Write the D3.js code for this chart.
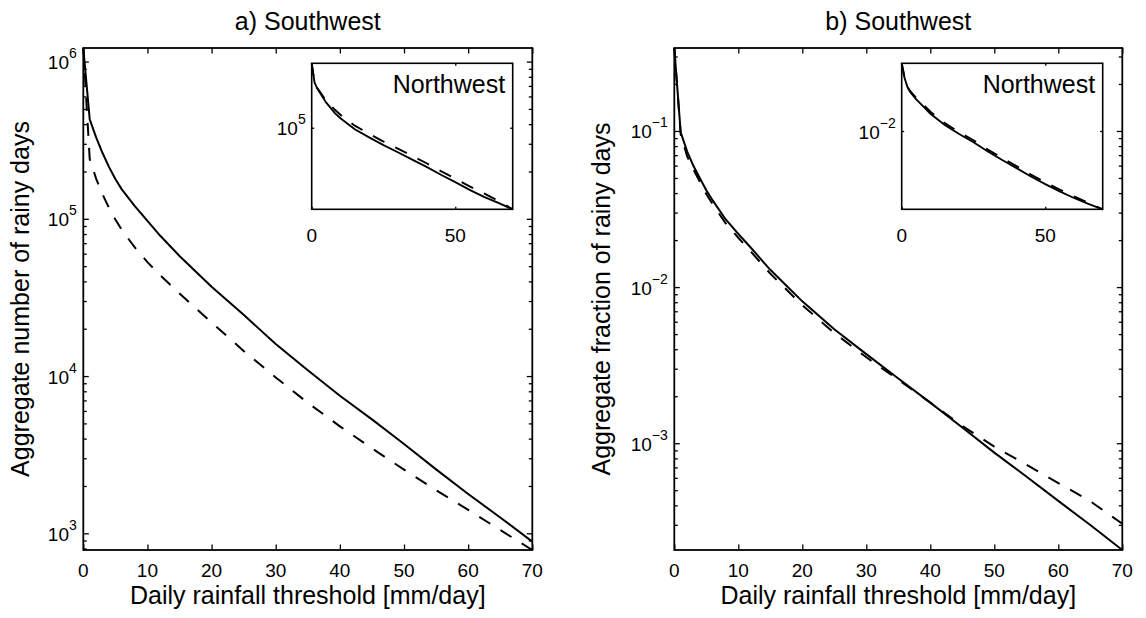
<!DOCTYPE html>
<html><head><meta charset="utf-8">
<script src="https://cdn.jsdelivr.net/npm/d3@7"></script>
<style>
body{margin:0;background:#fff;}
svg{font-family:"Liberation Sans",Arial,Helvetica,sans-serif;}
</style></head><body>
<svg id="c" width="1146" height="618"></svg>
<script>
// ---------- data ----------
const thresholds = [0,1,2,3,4,5,6,8,10,12,15,20,25,30,35,40,45,50,55,60,65,70];
// a) Southwest aggregate number of rainy days
const swCountSolid  = [1.22e6,4.3e5,3.3e5,2.62e5,2.14e5,1.79e5,1.54e5,1.21e5,9.7e4,7.8e4,5.8e4,3.7e4,2.45e4,1.6e4,1.09e4,7.5e3,5.3e3,3.7e3,2.55e3,1.78e3,1.26e3,885];
const swCountDashed = [1.22e6,2.4e5,1.8e5,1.43e5,1.175e5,9.9e4,8.5e4,6.6e4,5.3e4,4.37e4,3.35e4,2.19e4,1.445e4,9.8e3,6.76e3,4.79e3,3.47e3,2.54e3,1.88e3,1.41e3,1.05e3,783];
// b) Southwest aggregate fraction of rainy days
const swFracSolid   = [0.34,0.098,0.074,0.0596,0.0498,0.0417,0.0359,0.0272,0.0219,0.0178,0.0129,8.1e-3,5.37e-3,3.72e-3,2.6e-3,1.82e-3,1.26e-3,8.7e-4,6.12e-4,4.27e-4,2.99e-4,2.07e-4];
const swFracDashed  = [0.34,0.095,0.069,0.0565,0.0472,0.0395,0.0339,0.0257,0.0207,0.0168,0.0122,7.65e-3,5.08e-3,3.55e-3,2.55e-3,1.82e-3,1.29e-3,9.5e-4,7.3e-4,5.56e-4,4.25e-4,3.05e-4];
// insets: Northwest
const insetThresholds = [0,1,2,3,5,8,10,15,20,25,30,35,40,45,50,55,60,65,70];
const nwCountSolid  = [4.41e5,2.82e5,2.45e5,2.21e5,1.79e5,1.41e5,1.245e5,9.66e4,8.0e4,6.7e4,5.69e4,4.81e4,4.07e4,3.39e4,2.86e4,2.39e4,2.04e4,1.77e4,1.53e4];
const nwCountDashed = [4.41e5,2.82e5,2.48e5,2.26e5,1.87e5,1.52e5,1.35e5,1.05e5,8.7e4,7.28e4,6.18e4,5.23e4,4.42e4,3.68e4,3.1e4,2.59e4,2.21e4,1.86e4,1.53e4];
const nwFracSolid   = [0.0475,0.0339,0.0275,0.0244,0.0208,0.0170,0.0149,0.01148,9.33e-3,7.73e-3,6.24e-3,5.13e-3,4.26e-3,3.51e-3,2.94e-3,2.49e-3,2.14e-3,1.87e-3,1.65e-3];
const nwFracDashed  = [0.0475,0.0339,0.0278,0.0250,0.0215,0.0178,0.0156,0.0120,9.75e-3,8.08e-3,6.52e-3,5.36e-3,4.45e-3,3.67e-3,3.07e-3,2.6e-3,2.22e-3,1.92e-3,1.65e-3];

const xTicks = [0,10,20,30,40,50,60,70];
const insetXTicks = [0,50];
const panelTitles = ["a) Southwest","b) Southwest"];
const yAxisLabels = ["Aggregate number of rainy days","Aggregate fraction of rainy days"];
const xAxisLabel = "Daily rainfall threshold [mm/day]";
const insetTitle = "Northwest";
const mainYMajors = [[1e3,1e4,1e5,1e6],[1e-3,1e-2,1e-1]];
const insetYMajors = [[1e5],[1e-2]];

// ---------- drawing ----------
const svg = d3.select("#c");
const zip = (xs, vs) => xs.map((t,i)=>({t, v:vs[i]}));

function minors(domain){
  const out=[]; const lo=Math.floor(Math.log10(domain[0])), hi=Math.ceil(Math.log10(domain[1]));
  for(let k=lo;k<=hi;k++) for(let m=2;m<=9;m++){const v=m*Math.pow(10,k); if(v>=domain[0]&&v<=domain[1]) out.push(v);}
  return out;
}
function powLabel(g, x, y, v){
  const e = Math.round(Math.log10(v));
  const t = g.append("text").attr("x",x).attr("y",y).attr("text-anchor","end")
    .attr("font-size",19).attr("fill","#000").text("10");
  t.append("tspan").attr("dy",-11).attr("font-size",14).text(e<0 ? "\u2212"+(-e) : String(e));
}

function drawAxesBox(g, box, x, y, majorY, minorY, tick, minorTick){
  const styleAxis = s => { s.select(".domain").remove(); s.selectAll("line").attr("stroke","#000").attr("stroke-width",1.3); };
  g.append("g").attr("transform",`translate(0,${box.y1})`).call(d3.axisBottom(x).tickValues(box.xt).tickSize(-tick).tickSizeOuter(0).tickFormat("")).call(styleAxis);
  g.append("g").attr("transform",`translate(0,${box.y0})`).call(d3.axisTop(x).tickValues(box.xt).tickSize(-tick).tickSizeOuter(0).tickFormat("")).call(styleAxis);
  g.append("g").attr("transform",`translate(${box.x0},0)`).call(d3.axisLeft(y).tickValues(majorY).tickSize(-tick).tickSizeOuter(0).tickFormat("")).call(styleAxis);
  g.append("g").attr("transform",`translate(${box.x1},0)`).call(d3.axisRight(y).tickValues(majorY).tickSize(-tick).tickSizeOuter(0).tickFormat("")).call(styleAxis);
  if(minorY.length){
    g.append("g").attr("transform",`translate(${box.x0},0)`).call(d3.axisLeft(y).tickValues(minorY).tickSize(-minorTick).tickSizeOuter(0).tickFormat("")).call(styleAxis);
    g.append("g").attr("transform",`translate(${box.x1},0)`).call(d3.axisRight(y).tickValues(minorY).tickSize(-minorTick).tickSizeOuter(0).tickFormat("")).call(styleAxis);
  }
}

function drawCurves(g, x, y, xs, solid, dashed, w){
  const line = d3.line().x(d=>x(d.t)).y(d=>y(d.v));
  g.append("path").datum(zip(xs,dashed)).attr("d",line).attr("fill","none").attr("stroke","#000").attr("stroke-width",w).attr("stroke-dasharray","13,12");
  g.append("path").datum(zip(xs,solid)).attr("d",line).attr("fill","none").attr("stroke","#000").attr("stroke-width",w);
}

function panel(idx, box, inset, solid, dashed, iSolid, iDashed, yLabelX){
  const g = svg.append("g");
  const x = d3.scaleLinear().domain([0,70]).range([box.x0, box.x1]);
  const yDom = d3.extent(solid.concat(dashed));
  const y = d3.scaleLog().domain(yDom).range([box.y1, box.y0]);
  box.xt = xTicks;
  drawCurves(g, x, y, thresholds, solid, dashed, 2);
  drawAxesBox(g, box, x, y, mainYMajors[idx], minors(yDom), 5.5, 3.5);
  g.append("rect").attr("x",box.x0).attr("y",box.y0).attr("width",box.x1-box.x0).attr("height",box.y1-box.y0)
    .attr("fill","none").attr("stroke","#000").attr("stroke-width",1.8);
  xTicks.forEach(t => g.append("text").attr("x",x(t)).attr("y",box.y1+27).attr("text-anchor","middle").attr("font-size",19).text(t));
  mainYMajors[idx].forEach(v => powLabel(g, box.x0-6.5, y(v)+7.5, v));
  g.append("text").attr("x",(box.x0+box.x1)/2).attr("y",30).attr("text-anchor","middle").attr("font-size",25).text(panelTitles[idx]);
  g.append("text").attr("x",(box.x0+box.x1)/2).attr("y",604).attr("text-anchor","middle").attr("font-size",25).text(xAxisLabel);
  g.append("text").attr("transform",`translate(${yLabelX},${(box.y0+box.y1)/2}) rotate(-90)`).attr("text-anchor","middle").attr("font-size",25).text(yAxisLabels[idx]);

  // inset
  const ig = svg.append("g");
  ig.append("rect").attr("x",inset.x0).attr("y",inset.y0).attr("width",inset.x1-inset.x0).attr("height",inset.y1-inset.y0).attr("fill","#fff");
  const ix = d3.scaleLinear().domain([0,70]).range([inset.x0, inset.x1]);
  const iDom = d3.extent(iSolid.concat(iDashed));
  const iy = d3.scaleLog().domain(iDom).range([inset.y1, inset.y0]);
  inset.xt = insetXTicks;
  drawCurves(ig, ix, iy, insetThresholds, iSolid, iDashed, 1.9);
  drawAxesBox(ig, inset, ix, iy, insetYMajors[idx], [], 2.5, 0);
  ig.append("rect").attr("x",inset.x0).attr("y",inset.y0).attr("width",inset.x1-inset.x0).attr("height",inset.y1-inset.y0)
    .attr("fill","none").attr("stroke","#000").attr("stroke-width",1.6);
  insetXTicks.forEach(t => ig.append("text").attr("x",ix(t)).attr("y",inset.y1+33).attr("text-anchor","middle").attr("font-size",19).text(t));
  insetYMajors[idx].forEach(v => powLabel(ig, inset.x0-6, iy(v)+7.5, v));
  ig.append("text").attr("x",inset.x1-7.5).attr("y",inset.y0+29.5).attr("text-anchor","end").attr("font-size",25).text(insetTitle);
}

panel(0, {x0:83.3,x1:532.3,y0:48,y1:550}, {x0:311.7,x1:512.7,y0:63.3,y1:209.3},
      swCountSolid, swCountDashed, nwCountSolid, nwCountDashed, 29);
panel(1, {x0:674.3,x1:1122.3,y0:48,y1:550}, {x0:901.7,x1:1102.7,y0:63.3,y1:209.3},
      swFracSolid, swFracDashed, nwFracSolid, nwFracDashed, 610);
</script>
</body></html>
